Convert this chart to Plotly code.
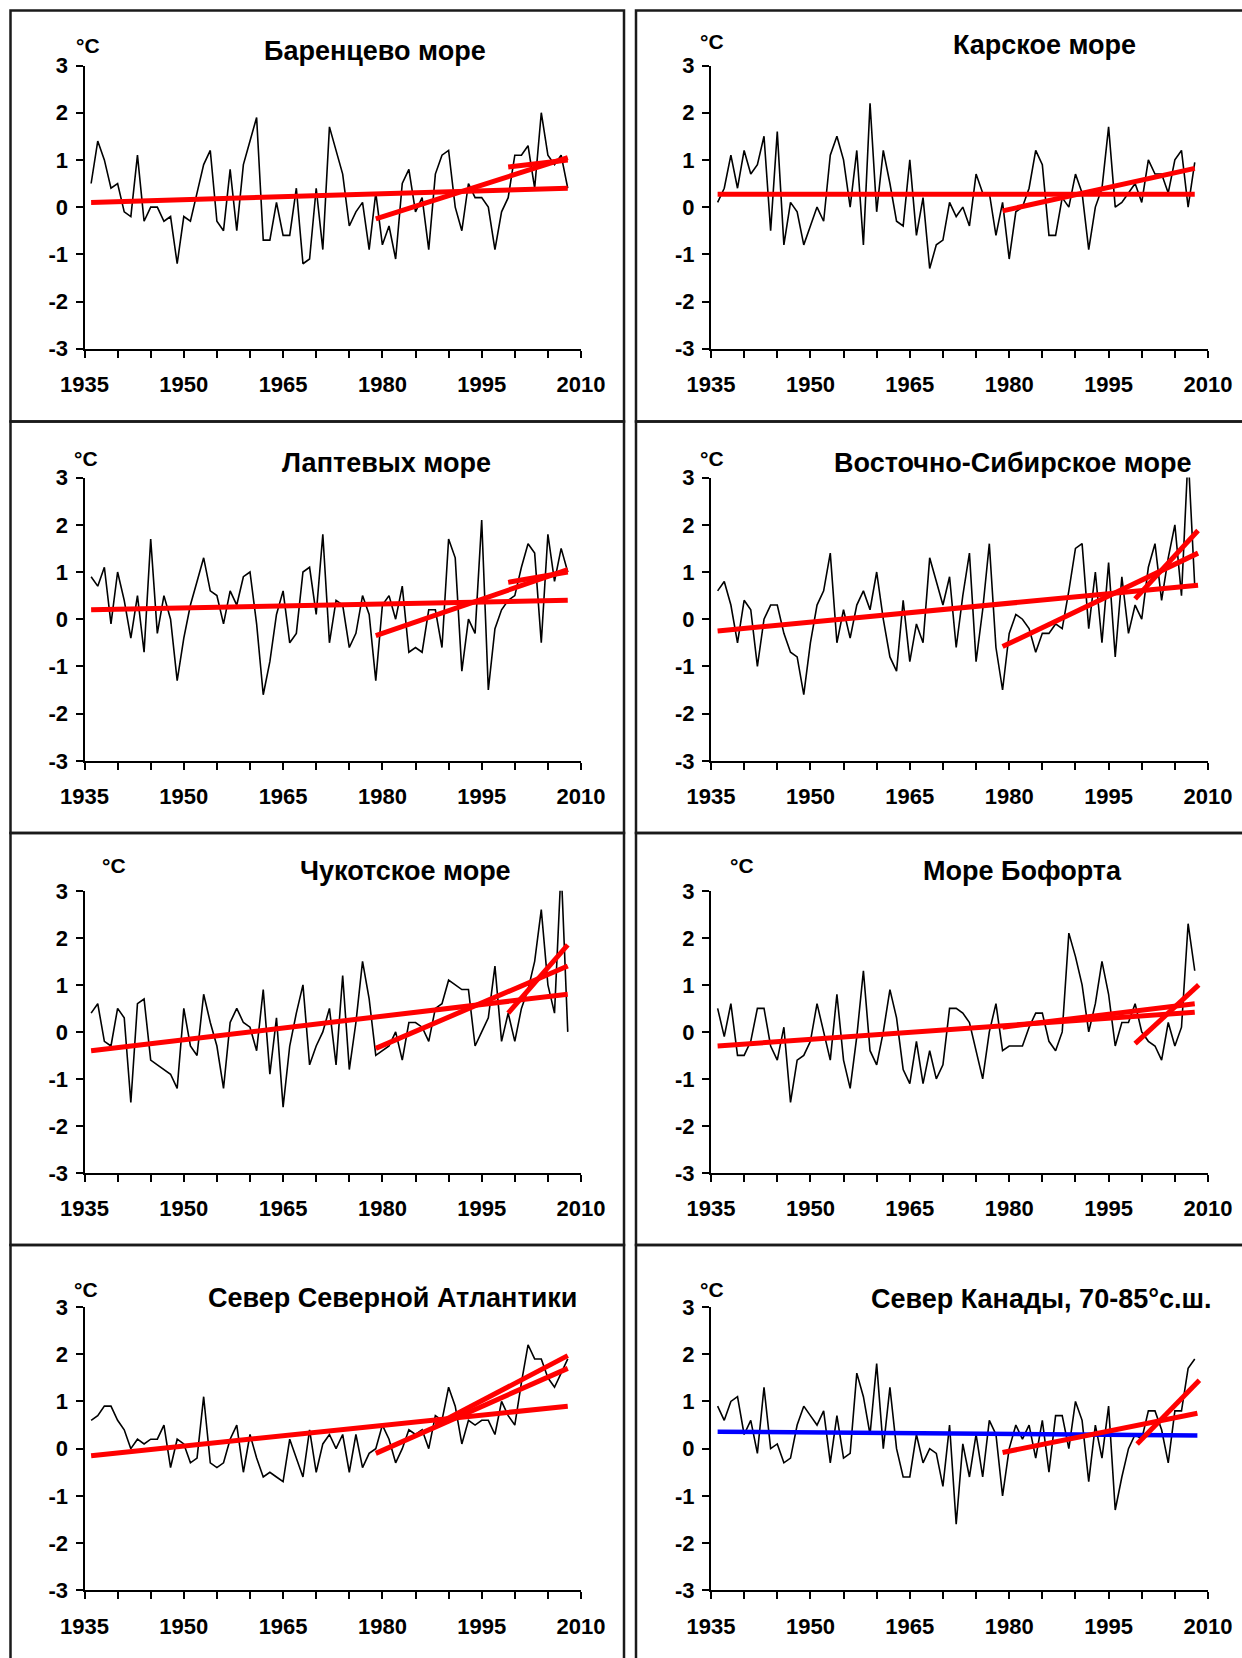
import plotly.graph_objects as go

W, H = 1242, 1658

# ---------------- data ----------------
years = list(range(1936, 2009))
x_ticks = list(range(1935, 2011, 5))
x_labels = [1935, 1950, 1965, 1980, 1995, 2010]
y_ticks = [-3, -2, -1, 0, 1, 2, 3]
y_labels = ["-3", "-2", "-1", "0", "1", "2", "3"]

titles = ["Баренцево море", "Карское море", "Лаптевых море", "Восточно-Сибирское море",
          "Чукотское море", "Море Бофорта", "Север Северной Атлантики", "Север Канады, 70-85°с.ш."]

barents = [0.5, 1.4, 1.0, 0.4, 0.5, -0.1, -0.2, 1.1, -0.3, 0.0,
           0.0, -0.3, -0.2, -1.2, -0.2, -0.3, 0.3, 0.9, 1.2, -0.3,
           -0.5, 0.8, -0.5, 0.9, 1.4, 1.9, -0.7, -0.7, 0.1, -0.6,
           -0.6, 0.4, -1.2, -1.1, 0.4, -0.9, 1.7, 1.2, 0.7, -0.4,
           -0.1, 0.1, -0.9, 0.3, -0.8, -0.4, -1.1, 0.5, 0.8, -0.1,
           0.2, -0.9, 0.7, 1.1, 1.2, 0.0, -0.5, 0.5, 0.2, 0.2,
           0.0, -0.9, -0.1, 0.2, 1.1, 1.1, 1.3, 0.4, 2.0, 1.1,
           0.9, 1.1, 0.4]
kara = [0.1, 0.4, 1.1, 0.4, 1.2, 0.7, 0.9, 1.5, -0.5, 1.6,
        -0.8, 0.1, -0.1, -0.8, -0.4, 0.0, -0.3, 1.1, 1.5, 1.0,
        0.0, 1.2, -0.8, 2.2, -0.1, 1.2, 0.5, -0.3, -0.4, 1.0,
        -0.6, 0.2, -1.3, -0.8, -0.7, 0.1, -0.2, 0.0, -0.4, 0.7,
        0.3, 0.3, -0.6, 0.1, -1.1, -0.1, 0.0, 0.4, 1.2, 0.9,
        -0.6, -0.6, 0.2, 0.0, 0.7, 0.3, -0.9, 0.0, 0.4, 1.7,
        0.0, 0.1, 0.3, 0.5, 0.1, 1.0, 0.7, 0.7, 0.3, 1.0,
        1.2, 0.0, 0.95]
laptev = [0.9, 0.7, 1.1, -0.1, 1.0, 0.4, -0.4, 0.5, -0.7, 1.7,
          -0.3, 0.5, 0.0, -1.3, -0.4, 0.3, 0.8, 1.3, 0.6, 0.5,
          -0.1, 0.6, 0.3, 0.9, 1.0, -0.1, -1.6, -0.9, 0.1, 0.6,
          -0.5, -0.3, 1.0, 1.1, 0.1, 1.8, -0.5, 0.4, 0.3, -0.6,
          -0.3, 0.5, 0.1, -1.3, 0.3, 0.5, 0.0, 0.7, -0.7, -0.6,
          -0.7, 0.2, 0.2, -0.6, 1.7, 1.3, -1.1, 0.0, -0.3, 2.1,
          -1.5, -0.2, 0.2, 0.4, 0.5, 1.1, 1.6, 1.4, -0.5, 1.8,
          0.8, 1.5, 1.0]
east_siberian = [0.6, 0.8, 0.3, -0.5, 0.4, 0.2, -1.0, 0.0, 0.3, 0.3,
                 -0.3, -0.7, -0.8, -1.6, -0.5, 0.3, 0.6, 1.4, -0.5, 0.2,
                 -0.4, 0.3, 0.6, 0.2, 1.0, 0.0, -0.8, -1.1, 0.4, -0.9,
                 -0.1, -0.5, 1.3, 0.8, 0.3, 0.9, -0.6, 0.5, 1.4, -0.9,
                 0.2, 1.6, -0.6, -1.5, -0.3, 0.1, 0.0, -0.2, -0.7, -0.3,
                 -0.3, -0.1, -0.2, 0.6, 1.5, 1.6, -0.2, 1.0, -0.5, 1.2,
                 -0.8, 0.9, -0.3, 0.3, 0.0, 1.1, 1.6, 0.4, 1.3, 2.0,
                 0.5, 3.5, 0.7]
chukchi = [0.4, 0.6, -0.2, -0.3, 0.5, 0.3, -1.5, 0.6, 0.7, -0.6,
           -0.7, -0.8, -0.9, -1.2, 0.5, -0.3, -0.5, 0.8, 0.2, -0.3,
           -1.2, 0.2, 0.5, 0.2, 0.1, -0.4, 0.9, -0.9, 0.3, -1.6,
           -0.3, 0.4, 1.0, -0.7, -0.3, 0.0, 0.5, -0.7, 1.2, -0.8,
           0.2, 1.5, 0.7, -0.5, -0.4, -0.3, 0.0, -0.6, 0.2, 0.2,
           0.1, -0.2, 0.5, 0.6, 1.1, 1.0, 0.9, 0.9, -0.3, 0.0,
           0.3, 1.4, -0.2, 0.4, -0.2, 0.5, 0.9, 1.5, 2.6, 1.0,
           0.4, 3.5, 0.0]
beaufort = [0.5, -0.1, 0.6, -0.5, -0.5, -0.2, 0.5, 0.5, -0.3, -0.6,
            0.1, -1.5, -0.6, -0.5, -0.2, 0.6, 0.0, -0.6, 0.8, -0.6,
            -1.2, -0.1, 1.3, -0.4, -0.7, 0.0, 0.9, 0.3, -0.8, -1.1,
            -0.2, -1.1, -0.4, -1.0, -0.7, 0.5, 0.5, 0.4, 0.2, -0.4,
            -1.0, 0.0, 0.6, -0.4, -0.3, -0.3, -0.3, 0.1, 0.4, 0.4,
            -0.2, -0.4, 0.0, 2.1, 1.6, 1.0, 0.0, 0.6, 1.5, 0.8,
            -0.3, 0.2, 0.2, 0.6, 0.0, -0.2, -0.3, -0.6, 0.2, -0.3,
            0.1, 2.3, 1.3]
north_atlantic = [0.6, 0.7, 0.9, 0.9, 0.6, 0.4, 0.0, 0.2, 0.1, 0.2,
                  0.2, 0.5, -0.4, 0.2, 0.1, -0.3, -0.2, 1.1, -0.3, -0.4,
                  -0.3, 0.2, 0.5, -0.5, 0.3, -0.2, -0.6, -0.5, -0.6, -0.7,
                  0.2, -0.2, -0.6, 0.4, -0.5, 0.1, 0.3, 0.0, 0.3, -0.5,
                  0.3, -0.4, -0.1, 0.0, 0.5, 0.2, -0.3, 0.0, 0.4, 0.3,
                  0.4, 0.0, 0.7, 0.6, 1.3, 0.9, 0.1, 0.6, 0.5, 0.6,
                  0.6, 0.3, 1.0, 0.7, 0.5, 1.4, 2.2, 1.9, 1.9, 1.5,
                  1.3, 1.6, 1.9]
canada = [0.9, 0.6, 1.0, 1.1, 0.3, 0.6, -0.1, 1.3, 0.0, 0.1,
          -0.3, -0.2, 0.5, 0.9, 0.7, 0.5, 0.8, -0.3, 0.7, -0.2,
          -0.1, 1.6, 1.1, 0.3, 1.8, 0.0, 1.3, 0.0, -0.6, -0.6,
          0.3, -0.3, 0.0, -0.1, -0.8, 0.5, -1.6, 0.1, -0.6, 0.3,
          -0.6, 0.6, 0.3, -1.0, 0.0, 0.5, 0.2, 0.5, -0.2, 0.6,
          -0.5, 0.7, 0.7, 0.0, 1.0, 0.6, -0.7, 0.5, -0.2, 0.9,
          -1.3, -0.6, 0.0, 0.3, 0.2, 0.8, 0.8, 0.4, -0.3, 0.8,
          0.8, 1.7, 1.9]

# trend lines: (start year, end year, start value, end value)
barents_trends = [(1936, 2008, 0.1, 0.4), (1979, 2008, -0.25, 1.05), (1999, 2008, 0.85, 1.0)]
kara_trends = [(1936, 2008, 0.27, 0.27), (1979, 2008, -0.08, 0.82)]
laptev_trends = [(1936, 2008, 0.2, 0.4), (1979, 2008, -0.35, 1.05), (1999, 2008, 0.78, 1.0)]
east_siberian_trends = [(1936, 2008.5, -0.25, 0.72), (1979, 2008.5, -0.58, 1.4), (1999, 2008.5, 0.43, 1.88)]
chukchi_trends = [(1936, 2008, -0.4, 0.8), (1979, 2008, -0.35, 1.4), (1999, 2008, 0.4, 1.85)]
beaufort_trends = [(1936, 2008, -0.3, 0.42), (1979, 2008, 0.1, 0.6), (1999, 2008.6, -0.25, 1.0)]
north_atlantic_trends = [(1936, 2008, -0.15, 0.9), (1979, 2008, -0.1, 1.7), (1988, 2008, 0.5, 1.97)]
canada_trends = [(1979, 2008.4, -0.08, 0.75), (1999.3, 2008.7, 0.1, 1.45)]
canada_blue_trends = [(1936, 2008.4, 0.36, 0.28)]

series = [barents, kara, laptev, east_siberian, chukchi, beaufort, north_atlantic, canada]
red_trends = [barents_trends, kara_trends, laptev_trends, east_siberian_trends,
              chukchi_trends, beaufort_trends, north_atlantic_trends, canada_trends]
blue_trends = [[], [], [], [], [], [], [], canada_blue_trends]

# ---------------- layout geometry (pixels) ----------------
col_x = [(84.5, 581.0), (711.0, 1208.0)]
row_y = [(65.5, 348.7), (477.6, 760.8), (890.8, 1173.0), (1307.0, 1590.3)]
frame_x = [(10.5, 624.0), (636.0, 1252.0)]
frame_y = [(10.5, 421.5), (421.5, 833.0), (833.0, 1245.0), (1245.0, 1665.0)]
title_pos = [(375, 51), (1044, 45), (386, 463), (1012, 463),
             (405, 871), (1022, 871), (392, 1298), (1041, 1299)]
degc_pos = [(88, 45), (712, 41), (86, 459), (712, 459),
            (114, 865), (742, 865), (86, 1289), (712, 1289)]

FONT = "Liberation Sans, Arial, sans-serif"


def px(x):
    return x / W


def py(y):
    return 1 - y / H


fig = go.Figure()
layout = dict(width=W, height=H, margin=dict(l=0, r=0, t=0, b=0, pad=0, autoexpand=False),
              autosize=False, paper_bgcolor="white", plot_bgcolor="white", showlegend=False,
              shapes=[], annotations=[])

for i in range(8):
    r, c = divmod(i, 2)
    n = i + 1
    xa = "x" if n == 1 else f"x{n}"
    ya = "y" if n == 1 else f"y{n}"
    xkey = "xaxis" if n == 1 else f"xaxis{n}"
    ykey = "yaxis" if n == 1 else f"yaxis{n}"

    layout[xkey] = dict(
        domain=[px(col_x[c][0]), px(col_x[c][1])], anchor=ya, range=[1935, 2010],
        tickmode="array", tickvals=x_ticks,
        ticktext=[str(v) if v in x_labels else "" for v in x_ticks],
        ticks="outside", ticklen=7, tickwidth=2, tickcolor="black",
        showline=True, linecolor="black", linewidth=2, showgrid=False, zeroline=False,
        tickfont=dict(family=FONT, size=22, color="black", weight="bold"),
        ticklabelstandoff=8, automargin=False, fixedrange=True)
    layout[ykey] = dict(
        domain=[py(row_y[r][1]), py(row_y[r][0])], anchor=xa, range=[-3, 3],
        tickmode="array", tickvals=y_ticks, ticktext=y_labels,
        ticks="outside", ticklen=7, tickwidth=2, tickcolor="black",
        showline=True, linecolor="black", linewidth=2, showgrid=False, zeroline=False,
        tickfont=dict(family=FONT, size=22, color="black", weight="bold"),
        ticklabelstandoff=3, automargin=False, fixedrange=True)

    fig.add_trace(go.Scatter(x=years, y=series[i], mode="lines",
                             line=dict(color="black", width=1.6),
                             xaxis=xa, yaxis=ya, hoverinfo="skip"))
    for (x0, x1, y0, y1) in blue_trends[i]:
        fig.add_trace(go.Scatter(x=[x0, x1], y=[y0, y1], mode="lines",
                                 line=dict(color="#0000ff", width=4.5),
                                 xaxis=xa, yaxis=ya, hoverinfo="skip"))
    for (x0, x1, y0, y1) in red_trends[i]:
        fig.add_trace(go.Scatter(x=[x0, x1], y=[y0, y1], mode="lines",
                                 line=dict(color="#ff0000", width=5),
                                 xaxis=xa, yaxis=ya, hoverinfo="skip"))

    # panel frame
    layout["shapes"].append(dict(type="rect", xref="paper", yref="paper",
                                 x0=px(frame_x[c][0]), x1=px(frame_x[c][1]),
                                 y0=py(frame_y[r][1]), y1=py(frame_y[r][0]),
                                 line=dict(color="#1a1a1a", width=2.5), layer="above"))
    tx, ty = title_pos[i]
    layout["annotations"].append(dict(text=titles[i], xref="paper", yref="paper",
                                      x=px(tx), y=py(ty), xanchor="center", yanchor="middle",
                                      showarrow=False,
                                      font=dict(family=FONT, size=27, color="black", weight="bold")))
    dx, dy = degc_pos[i]
    layout["annotations"].append(dict(text="°C", xref="paper", yref="paper",
                                      x=px(dx), y=py(dy), xanchor="center", yanchor="middle",
                                      showarrow=False,
                                      font=dict(family=FONT, size=21, color="black", weight="bold")))

fig.update_layout(**layout)
fig.write_html("out.html")
